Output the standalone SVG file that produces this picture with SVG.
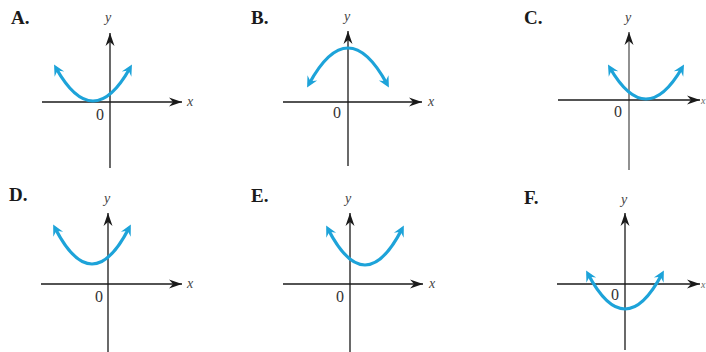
<svg xmlns="http://www.w3.org/2000/svg" width="706" height="352" viewBox="0 0 706 352">
<defs>
<style>
.lbl{font-family:"Liberation Serif","Times New Roman",serif;font-weight:bold;font-size:19px;fill:#1a1a1a}
.ax{stroke:#1a1a1a;stroke-width:1.3;fill:none;marker-end:url(#axarr)}
.var{font-family:"Liberation Serif","Times New Roman",serif;font-style:italic;font-size:14px;fill:#444;text-anchor:middle}
.edge{font-family:"Liberation Serif","Times New Roman",serif;font-style:italic;font-size:10px;fill:#666}
.zero{font-family:"Liberation Serif","Times New Roman",serif;font-size:16px;fill:#333;text-anchor:middle}
.crv{stroke:#1da3d9;stroke-width:3.2;fill:none;marker-start:url(#carr);marker-end:url(#carr)}
</style>
<marker id="axarr" markerUnits="userSpaceOnUse" markerWidth="20" markerHeight="14" viewBox="-14 -7 16 14" refX="0" refY="0" orient="auto">
<path d="M0,0 L-13,-4.5 L-9,0 L-13,4.5 Z" fill="#1a1a1a"/>
</marker>
<marker id="carr" markerUnits="userSpaceOnUse" markerWidth="20" markerHeight="16" viewBox="-10 -8 16 16" refX="0" refY="0" orient="auto-start-reverse">
<path d="M4,0 L-7,-5.5 L-3,0 L-7,5.5 Z" fill="#1da3d9"/>
</marker>
</defs>

<g id="graphA">
<text class="lbl" x="11" y="24">A.</text>
<line class="ax" x1="110" y1="168" x2="110" y2="33"/>
<line class="ax" x1="42" y1="102" x2="182" y2="102"/>
<text class="var" x="108" y="22">y</text>
<text class="var" x="190" y="106">x</text>
<text class="zero" x="100" y="120">0</text>
<path class="crv" d="M56,68 Q93,134 130,68"/>
</g>

<g id="graphB">
<text class="lbl" x="251" y="24">B.</text>
<line class="ax" x1="348" y1="166" x2="348" y2="31"/>
<line class="ax" x1="283" y1="102" x2="422" y2="102"/>
<text class="var" x="347" y="21">y</text>
<text class="var" x="431" y="106">x</text>
<text class="zero" x="337" y="118">0</text>
<path class="crv" d="M309,84 Q348,12 387,84"/>
</g>

<g id="graphC">
<text class="lbl" x="524" y="24">C.</text>
<line class="ax" x1="629" y1="170" x2="629" y2="32" style="stroke:#555"/>
<line class="ax" x1="558" y1="100" x2="700" y2="100"/>
<text class="var" x="628" y="22">y</text>
<text class="edge" x="701" y="104">x</text>
<text class="zero" x="618" y="117">0</text>
<path class="crv" d="M610,68 Q646,130 682,68"/>
</g>

<g id="graphD">
<text class="lbl" x="9" y="201">D.</text>
<line class="ax" x1="108" y1="352" x2="108" y2="213"/>
<line class="ax" x1="41" y1="284" x2="182" y2="284"/>
<text class="var" x="107" y="203">y</text>
<text class="var" x="190" y="288">x</text>
<text class="zero" x="99" y="302">0</text>
<path class="crv" d="M55,228 Q92,300 129,228"/>
</g>

<g id="graphE">
<text class="lbl" x="251" y="202">E.</text>
<line class="ax" x1="350" y1="352" x2="350" y2="213"/>
<line class="ax" x1="283" y1="284" x2="423" y2="284"/>
<text class="var" x="348" y="203">y</text>
<text class="var" x="432" y="288">x</text>
<text class="zero" x="340" y="302">0</text>
<path class="crv" d="M328,229 Q365,301 402,229"/>
</g>

<g id="graphF">
<text class="lbl" x="524" y="204">F.</text>
<line class="ax" x1="625" y1="350" x2="625" y2="213"/>
<line class="ax" x1="557" y1="284" x2="700" y2="284"/>
<text class="var" x="624" y="204">y</text>
<text class="edge" x="701" y="288">x</text>
<text class="zero" x="615" y="300">0</text>
<path class="crv" d="M588,274 Q625,344 662,274"/>
</g>
</svg>
